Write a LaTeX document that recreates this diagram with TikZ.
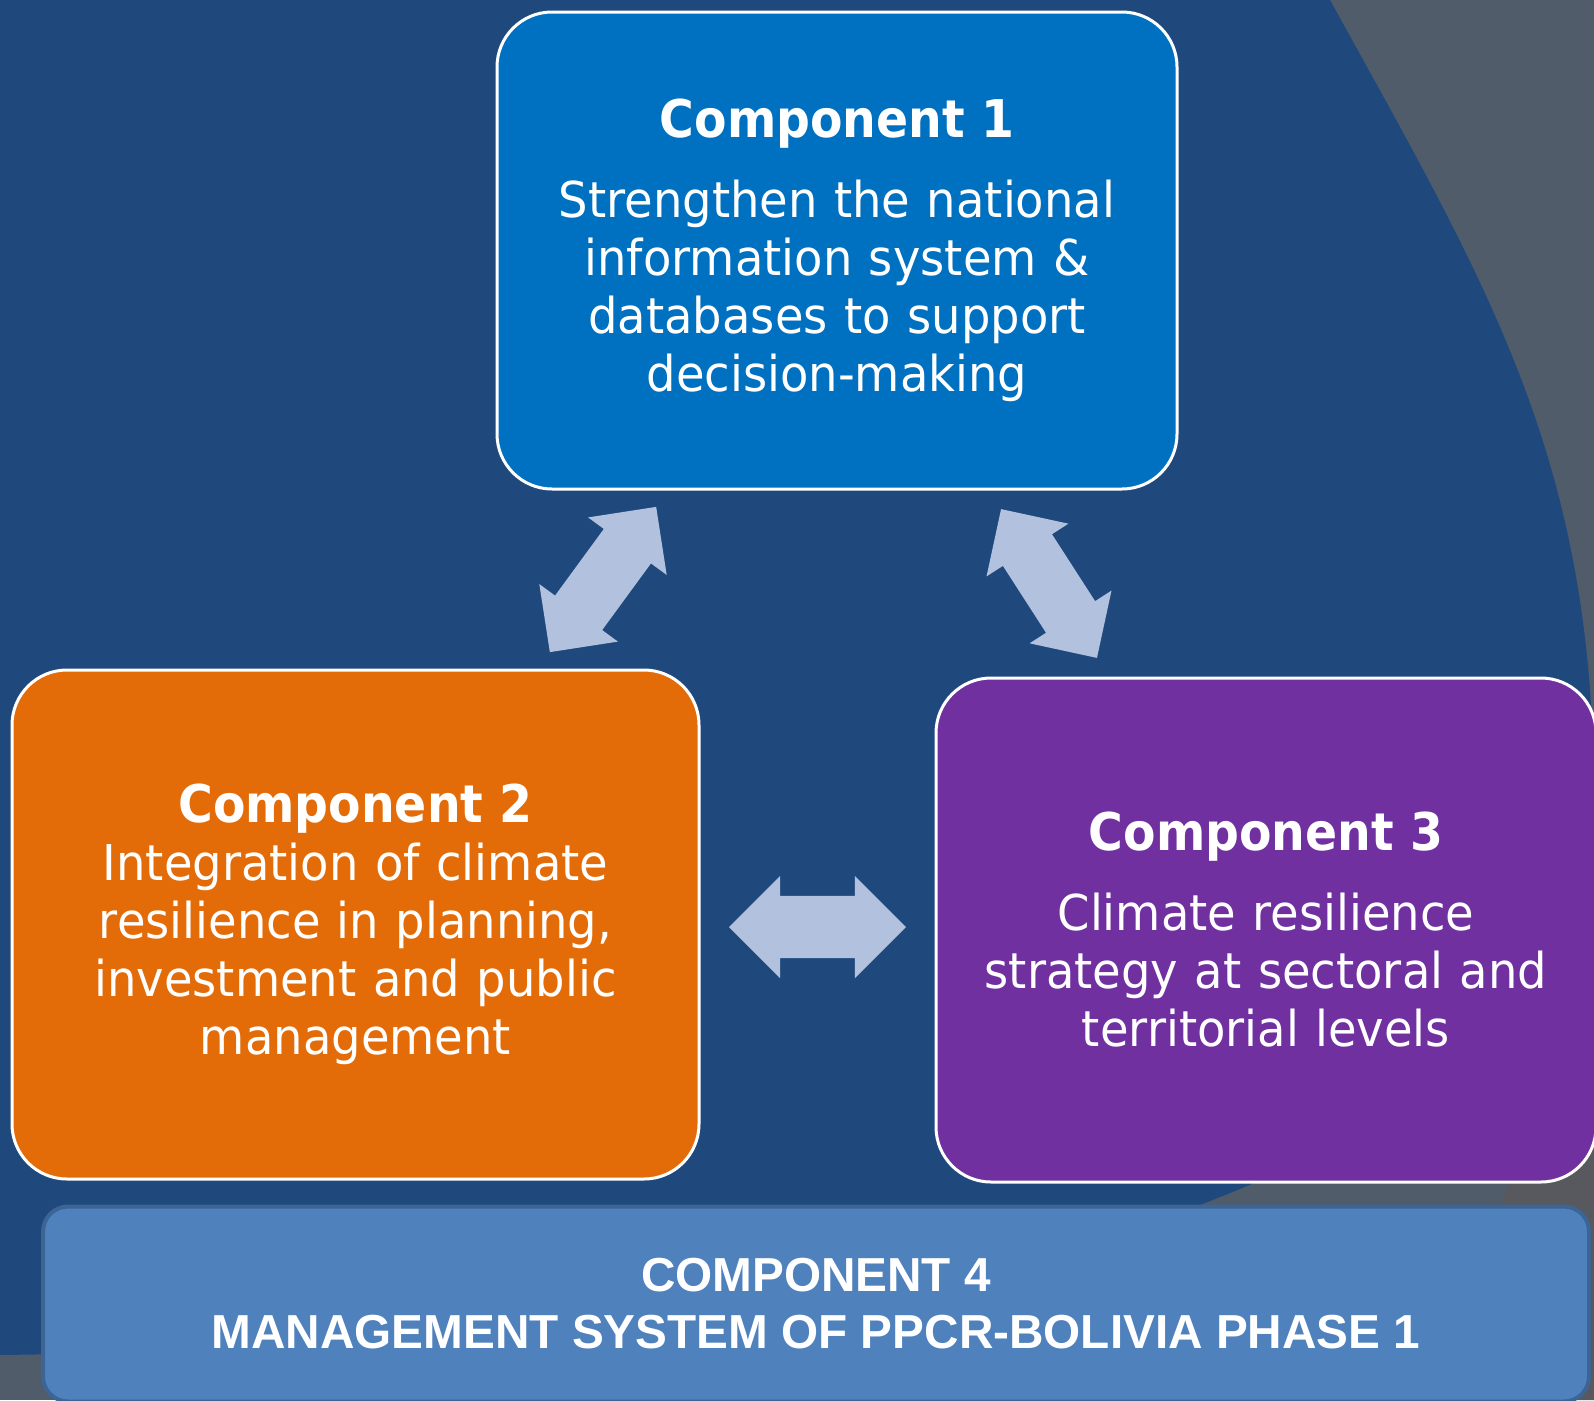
\documentclass[tikz,border=0pt]{standalone}
\usepackage{fontspec}
\newfontfamily\compfont{DejaVu Sans}[FakeStretch=0.94]
\newfontfamily\comptitle{DejaVu Sans Bold}[FakeStretch=0.91]
\newfontfamily\mgmtfont{Liberation Sans Bold}
\usetikzlibrary{shapes.arrows}
\definecolor{slideblue}{HTML}{1F497D}
\definecolor{slidegrey}{HTML}{515C6B}
\definecolor{slidegreydark}{HTML}{57595E}
\definecolor{comp1}{HTML}{0070C0}
\definecolor{comp2}{HTML}{E36C09}
\definecolor{comp3}{HTML}{7030A0}
\definecolor{comp4}{HTML}{4F81BD}
\definecolor{comp4line}{HTML}{3C6595}
\definecolor{arrowblue}{HTML}{B2C2DE}

\begin{document}
\begin{tikzpicture}[x=1pt,y=-1pt,
		comp/.style={draw=white,line width=3pt,rounded corners=55pt,text=white,
			align=center,inner sep=0pt,font=\compfont\fontsize{49.4}{58}\selectfont},
		link/.style={double arrow,fill=arrowblue,inner xsep=0pt,inner ysep=29pt,double arrow tip angle=90,
			minimum width=97pt,double arrow head extend=19.5pt}]
		\useasboundingbox (0,0) rectangle (1594,1400);
		\fill[slidegrey] (0,0) rectangle (1594,1400);
		\fill[slidegreydark] (1522,1140) -- (1594,1140) -- (1594,1400) -- (1436,1400) -- cycle;
		\fill[slideblue] (0,0) -- (1330,0) .. controls (1490,290) and (1594,460) .. (1594,800)
			.. controls (1594,1000) and (1420,1120) .. (1200,1205)
			.. controls (900,1310) and (400,1350) .. (0,1355) -- cycle;
		\node[comp,fill=comp1,minimum width=680pt,minimum height=477pt,text width=640pt] (c1) at (837,250.5)
			{{\comptitle\fontsize{52}{58}\selectfont Component 1}\\[22pt]
			Strengthen the national\\ information system \&\\ databases to support\\ decision-making};
		\node[comp,fill=comp2,minimum width=687pt,minimum height=509pt,text width=650pt] (c2) at (355.5,924.5)
			{{\comptitle\fontsize{52}{58}\selectfont Component 2}\\
			Integration of climate\\ resilience in planning,\\ investment and public\\ management};
		\node[comp,fill=comp3,minimum width=660pt,minimum height=504pt,text width=620pt] (c3) at (1266,930)
			{{\comptitle\fontsize{52}{58}\selectfont Component 3}\\[22pt]
			Climate resilience\\ strategy at sectoral and\\ territorial levels};
		\node[draw=comp4line,line width=4pt,fill=comp4,rounded corners=25pt,text=white,align=center,
			minimum width=1546pt,minimum height=195pt,inner sep=0pt,
			font=\mgmtfont\fontsize{47.7}{57}\selectfont] (c4) at (816,1304)
			{COMPONENT 4\\ MANAGEMENT SYSTEM OF PPCR-BOLIVIA PHASE 1};
		\node[link,minimum height=180pt,rotate=53.8] (a12) at (603,579.5) {};
		\node[link,minimum height=177pt,rotate=-57.2] (a13) at (1049,583.5) {};
		\node[link,minimum height=177pt,minimum width=102pt,inner ysep=31pt,double arrow head extend=20pt] (a23) at (817.5,927) {};
	\end{tikzpicture}
\end{document}
